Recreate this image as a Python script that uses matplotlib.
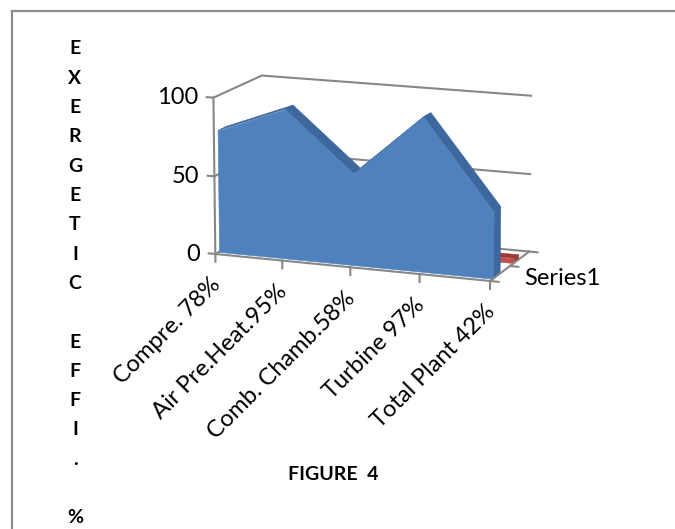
import matplotlib
matplotlib.use("Agg")
import matplotlib.pyplot as plt
from matplotlib.lines import Line2D
from mpl_toolkits.mplot3d.art3d import Poly3DCollection
from mpl_toolkits.mplot3d import proj3d
import numpy as np

# data
categories = ["Compre. 78%", "Air Pre.Heat.95%", "Comb. Chamb.58%",
              "Turbine 97%", "Total Plant 42%"]
series1 = [78, 95, 58, 97, 42]
series2 = [3, 3, 3, 3, 3]
value_ticks = [0, 50, 100]
series_names = ["Series1"]
ylabel_chars = list("EXERGETIC") + [""] + list("EFFI.") + ["", "%"]

plt.rcParams["font.family"] = ["Lato", "DejaVu Sans"]

GRID = "#878787"
BLUE, BLUE_SIDE = "#4F81BD", "#3D679D"
RED, RED_SIDE = "#C0504D", "#9B3A37"
DEPTH = 2.0
ncat = len(categories)

fig = plt.figure(figsize=(6.75, 5.29), dpi=100)

# page frame (top and left edges only)
fig.add_artist(Line2D([12 / 675, 1], [1 - 11 / 529, 1 - 11 / 529], color="#8c8c8c", lw=1.6))
fig.add_artist(Line2D([12 / 675, 12 / 675], [0, 1 - 11 / 529], color="#8c8c8c", lw=1.6))

ax = fig.add_axes([0.18, 0.335, 0.73, 0.65], projection="3d")
ax.set_proj_type("persp", focal_length=1.6)
ax.view_init(elev=13, azim=-69)
ax.set_box_aspect((1.0, 0.42, 0.55))
ax.set_xlim(0, ncat - 1)
ax.set_ylim(0, DEPTH)
ax.set_zlim(0, 100)
ax.set_axis_off()
ax.computed_zorder = False

# walls: gridlines on left and back walls
for v in value_ticks:
    ax.plot([0, 0, ncat - 1], [0, DEPTH, DEPTH], [v, v, v], color=GRID, lw=1.5, zorder=1)


def slab(values, y0, y1, face, side, z):
    x = np.arange(len(values))
    v = np.asarray(values, float)
    front = [(xi, y0, vi) for xi, vi in zip(x, v)] + [(x[-1], y0, 0), (x[0], y0, 0)]
    tops = [[(x[i], y0, v[i]), (x[i + 1], y0, v[i + 1]),
             (x[i + 1], y1, v[i + 1]), (x[i], y1, v[i])] for i in range(len(v) - 1)]
    end = [(x[-1], y0, 0), (x[-1], y0, v[-1]), (x[-1], y1, v[-1]), (x[-1], y1, 0)]
    ax.add_collection3d(Poly3DCollection(tops + [end], facecolor=side, edgecolor=side,
                                         linewidth=0.4, zorder=z))
    ax.add_collection3d(Poly3DCollection([front], facecolor=face, edgecolor=face,
                                         linewidth=0.4, zorder=z + 1))


slab(series2, 1.2, 1.45, RED, RED_SIDE, 2)
slab(series1, 0.15, 0.5, BLUE, BLUE_SIDE, 4)

# value axis on the front-left edge
ax.plot([0, 0], [0, 0], [0, 100], color=GRID, lw=1.5, zorder=8)
for v in value_ticks:
    ax.plot([-0.1, 0], [0, 0], [v, v], color=GRID, lw=1.5, zorder=8)

# category axis along the front of the floor
ax.plot([0, ncat - 1], [0, 0], [0, 0], color=GRID, lw=1.5, zorder=8)
for i in range(ncat):
    ax.plot([i, i], [0, 0], [0, -5], color=GRID, lw=1.5, zorder=8)

# series (depth) axis on the right of the floor
ax.plot([ncat - 1, ncat - 1], [0, DEPTH], [0, 0], color=GRID, lw=1.5, zorder=8)
for d in [0, DEPTH / 2, DEPTH]:
    ax.plot([ncat - 1, ncat - 1 + 0.12], [d, d], [0, 0], color=GRID, lw=1.5, zorder=8)

# labels are placed in screen space once the projection is known
fig.canvas.draw()


def screen(x, y, z):
    px, py, _ = proj3d.proj_transform(x, y, z, ax.get_proj())
    return px, py


for v in value_ticks:
    ax.annotate(str(v), screen(0, 0, v), xytext=(-15, 0), textcoords="offset pixels",
                ha="right", va="center", fontsize=17)

for i, lab in enumerate(categories):
    ax.annotate(lab, screen(i, 0, 0), xytext=(-6, -20), textcoords="offset pixels",
                rotation=45, ha="right", va="top", rotation_mode="anchor", fontsize=17)

ax.annotate(series_names[0], screen(ncat - 1, DEPTH * 0.3, 0), xytext=(22, -7),
            textcoords="offset pixels", ha="left", va="center", fontsize=17)

# vertical axis title, one letter per line
for k, ch in enumerate(ylabel_chars):
    fig.text(75 / 675, 1 - (49 + k * 29.3) / 529, ch, ha="center", va="center",
             fontsize=14, fontweight="bold")

fig.text(333 / 675, 1 - 475 / 529, "FIGURE  4", ha="center", va="center",
         fontsize=14, fontweight="bold")

fig.savefig("out.png", dpi=100)
